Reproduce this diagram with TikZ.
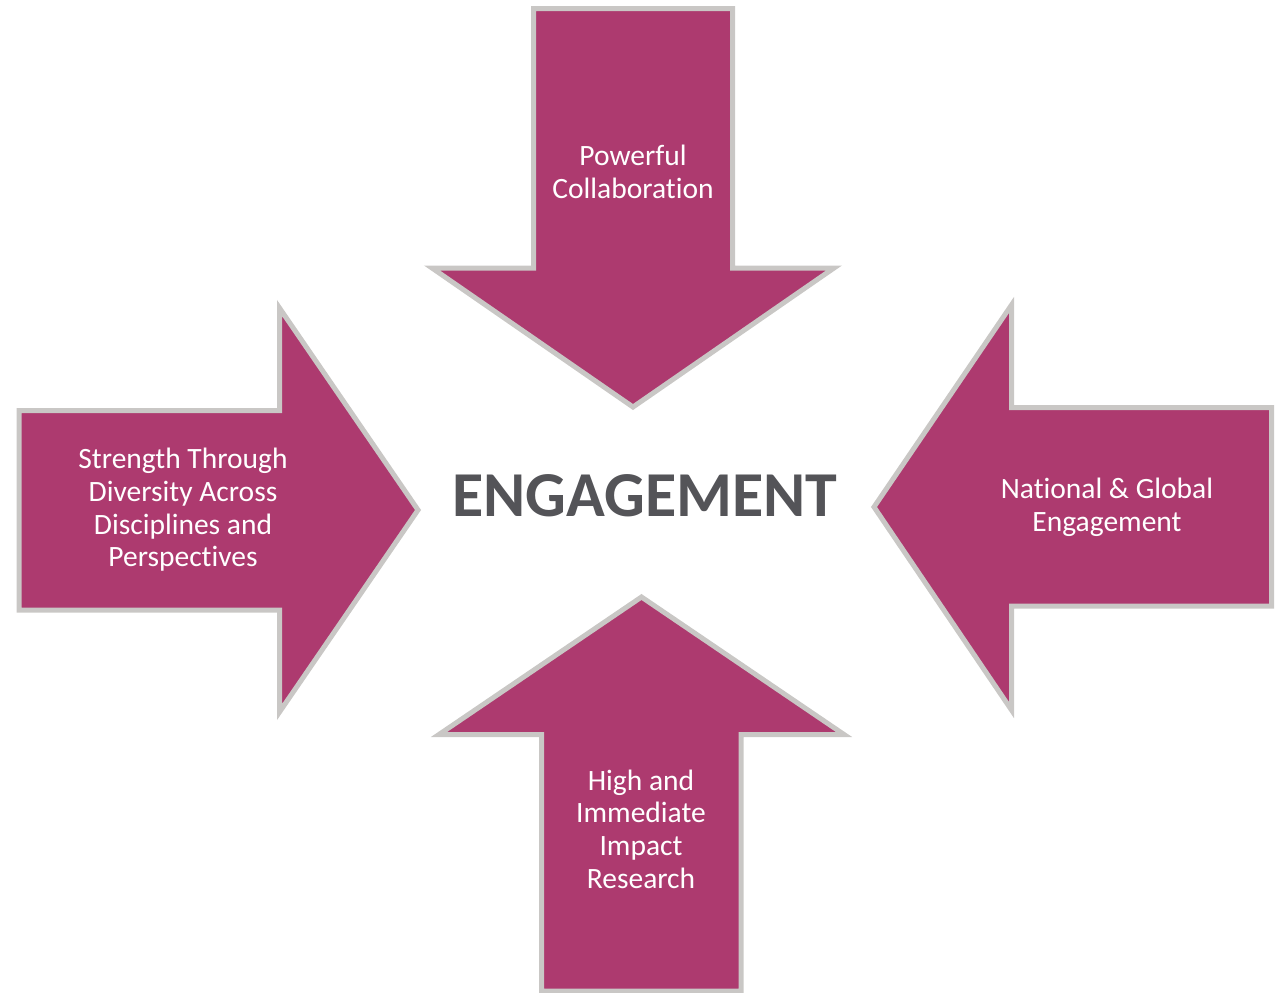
\documentclass[tikz,border=0pt]{standalone}
\usepackage{fontspec}
\setmainfont{Carlito}[Ligatures=NoCommon]
\usepackage{xcolor}
\definecolor{plum}{HTML}{AD3A6F}
\definecolor{rim}{HTML}{C9C7C5}
\definecolor{ink}{HTML}{545458}

\tikzset{
    bigarrow/.style={fill=plum, draw=rim, line width=5pt},
    armlabel/.style={text=white, align=center, font=\fontsize{29.5}{32.7}\selectfont},
}

\begin{document}
\begin{tikzpicture}[x=1pt, y=-1pt]
    \useasboundingbox (0, 0) rectangle (1286, 993);

    % arrow from the top
    \draw[bigarrow] (533.5, 8.5) -- (732.5, 8.5) -- (732.5, 268) -- (834, 268)
        -- (633, 407) -- (432, 268) -- (533.5, 268) -- cycle;
    % arrow from the left
    \draw[bigarrow] (19, 410.5) -- (279.5, 410.5) -- (279.5, 308) -- (418, 510)
        -- (279.5, 712) -- (279.5, 610) -- (19, 610) -- cycle;
    % arrow from the right
    \draw[bigarrow] (1271.5, 407.5) -- (1011.5, 407.5) -- (1011.5, 305) -- (874, 507)
        -- (1011.5, 710) -- (1011.5, 606) -- (1271.5, 606) -- cycle;
    % arrow from the bottom
    \draw[bigarrow] (541.5, 991) -- (741, 991) -- (741, 734.5) -- (844, 734.5)
        -- (641.5, 597) -- (439, 734.5) -- (541.5, 734.5) -- cycle;

    \node[armlabel] (collab) at (633, 172) {Powerful\\Collaboration};
    \node[armlabel] (diversity) at (183, 510) {Strength Through\\Diversity Across\\Disciplines and\\Perspectives};
    \node[armlabel] (global) at (1107, 507) {National \& Global\\Engagement};
    \node[armlabel] (impact) at (641, 829) {High and\\Immediate\\Impact\\Research};

    \node[text=ink, font=\fontsize{64}{72}\selectfont\bfseries] (engage) at (645, 496) {ENGAGEMENT};
\end{tikzpicture}
\end{document}
